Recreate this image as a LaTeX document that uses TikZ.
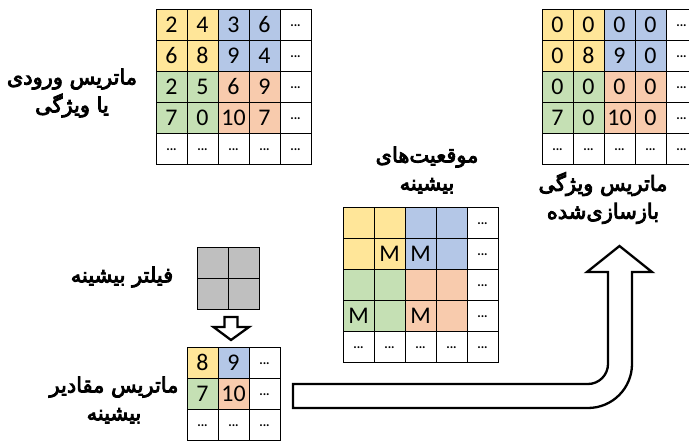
\documentclass[tikz,border=0pt]{standalone}
\usepackage{fontspec}
\setmainfont{Carlito}
\newfontfamily\fa[Script=Arabic,FakeBold=4]{DejaVu Sans}
\TeXXeTstate=1
\definecolor{cy}{HTML}{FFE699}
\definecolor{cb}{HTML}{B4C7E7}
\definecolor{cg}{HTML}{C5E0B4}
\definecolor{co}{HTML}{F8CBAD}
\definecolor{cgr}{HTML}{BFBFBF}
\newcommand\dd{\raisebox{-5bp}{\fontsize{13}{13}\selectfont\bfseries...}}
\tikzset{
  cell/.style={draw=black, line width=0.9bp, minimum size=31bp, inner sep=0pt, anchor=center,
    font=\fontsize{24}{24}\selectfont},
  falab/.style={align=center, font=\fa\fontsize{21}{28}\selectfont, inner sep=0pt},
  hollow/.style={draw=black, line width=2.3bp, fill=white, line join=miter}
}
\begin{document}
\begin{tikzpicture}[x=1bp,y=-1bp]
\clip (0,0) rectangle (689,441);
\fill[white] (0,0) rectangle (689,441);
% input matrix
\foreach \f/\t [count=\i from 0] in {cy/2,cy/4,cb/3,cb/6,white/\dd,
  cy/6,cy/8,cb/9,cb/4,white/\dd,
  cg/2,cg/5,co/6,co/9,white/\dd,
  cg/7,cg/0,co/10,co/7,white/\dd,
  white/\dd,white/\dd,white/\dd,white/\dd,white/\dd}{
  \pgfmathtruncatemacro\r{floor(\i/5)}\pgfmathtruncatemacro\c{mod(\i,5)}
  \node[cell, fill=\f] (A-\r-\c) at (156+31*\c+15.5, 9+31*\r+15.5) {\t};
}
% reconstructed matrix
\foreach \f/\t [count=\i from 0] in {cy/0,cy/0,cb/0,cb/0,white/\dd,
  cy/0,cy/8,cb/9,cb/0,white/\dd,
  cg/0,cg/0,co/0,co/0,white/\dd,
  cg/7,cg/0,co/10,co/0,white/\dd,
  white/\dd,white/\dd,white/\dd,white/\dd,white/\dd}{
  \pgfmathtruncatemacro\r{floor(\i/5)}\pgfmathtruncatemacro\c{mod(\i,5)}
  \node[cell, fill=\f] (R-\r-\c) at (542+31*\c+15.5, 9+31*\r+15.5) {\t};
}
% max positions matrix
\foreach \f/\t [count=\i from 0] in {cy/,cy/,cb/,cb/,white/\dd,
  cy/,cy/M,cb/M,cb/,white/\dd,
  cg/,cg/,co/,co/,white/\dd,
  cg/M,cg/,co/M,co/,white/\dd,
  white/\dd,white/\dd,white/\dd,white/\dd,white/\dd}{
  \pgfmathtruncatemacro\r{floor(\i/5)}\pgfmathtruncatemacro\c{mod(\i,5)}
  \node[cell, fill=\f] (M-\r-\c) at (343+31*\c+15.5, 207+31*\r+15.5) {\t};
}
% filter
\foreach \i in {0,1,2,3}{
  \pgfmathtruncatemacro\r{floor(\i/2)}\pgfmathtruncatemacro\c{mod(\i,2)}
  \node[cell, fill=cgr] (F-\r-\c) at (197+31*\c+15.5, 247+31*\r+15.5) {};
}
% pooled matrix
\foreach \f/\t [count=\i from 0] in {cy/8,cb/9,white/\dd,
  cg/7,co/10,white/\dd,
  white/\dd,white/\dd,white/\dd}{
  \pgfmathtruncatemacro\r{floor(\i/3)}\pgfmathtruncatemacro\c{mod(\i,3)}
  \node[cell, fill=\f] (P-\r-\c) at (187+31*\c+15.5, 347+31*\r+15.5) {\t};
}
% labels
\node[falab] (lin) at (72,93) {\beginR ماتریس ورودی\endR\\\beginR یا ویژگی\endR};
\node[falab] (lrec) at (603,198) {\beginR ماتریس ویژگی\endR\\\beginR بازسازی‌شده\endR};
\node[falab] (lpos) at (427,170) {\beginR موقعیت‌های\endR\\\beginR بیشینه\endR};
\node[falab] (lfil) at (122,277) {\beginR فیلتر بیشینه\endR};
\node[falab] (lmax) at (114,400) {\beginR ماتریس مقادیر\endR\\\beginR بیشینه\endR};
% small down arrow
\coordinate (sa) at (231,317);
\draw[hollow] (sa) ++(-6.5,0) -- ++(0,10) -- ++(-11,0) -- (231,340) -- (249,327) -- ++(-11.5,0) -- ++(0,-10) -- cycle;
% big bent arrow
\coordinate (ba) at (293,384);
\draw[hollow] (ba) -- (588,384) .. controls (599,384) and (608,375) .. (608,364)
  -- (608,272) -- (587,272) -- (619.5,246) -- (652,272) -- (632,272) -- (632,364)
  .. controls (632,388.3) and (612.3,408) .. (588,408) -- (293,408) -- cycle;
\end{tikzpicture}
\end{document}
